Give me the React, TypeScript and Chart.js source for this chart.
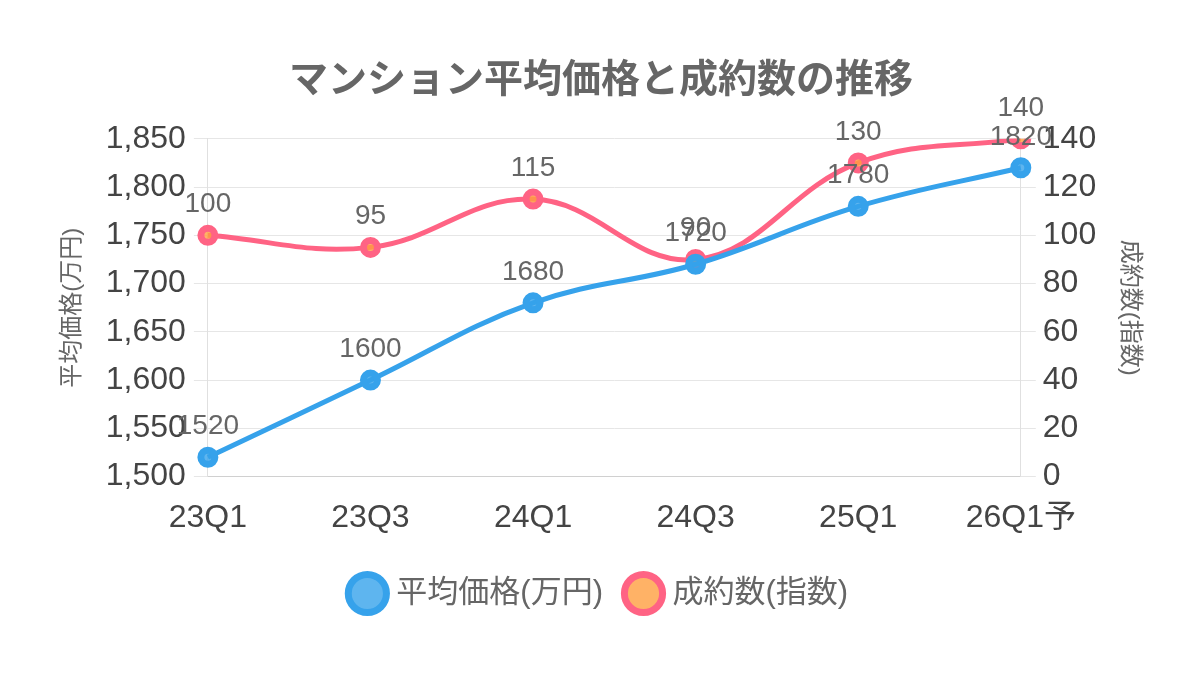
import React, { useEffect, useRef } from 'react';
import { Chart, registerables } from 'chart.js';

Chart.register(...registerables);

const categories = ['23Q1', '23Q3', '24Q1', '24Q3', '25Q1', '26Q1予'];
const priceValues = [1520, 1600, 1680, 1720, 1780, 1820];
const countValues = [100, 95, 115, 90, 130, 140];

const FONT = "'Liberation Sans', 'Noto Sans CJK JP', sans-serif";

// 各点の上に値を描く
const valueLabels = {
  id: 'valueLabels',
  afterDatasetsDraw(chart: any) {
    const { ctx } = chart;
    ctx.save();
    ctx.font = `28px ${FONT}`;
    ctx.fillStyle = '#666666';
    ctx.textAlign = 'center';
    ctx.textBaseline = 'alphabetic';
    chart.data.datasets.forEach((ds: any, i: number) => {
      const meta = chart.getDatasetMeta(i);
      meta.data.forEach((pt: any, j: number) => {
        ctx.fillText(String(ds.data[j]), pt.x, pt.y - 23);
      });
    });
    ctx.restore();
  },
};

const App: React.FC = () => {
  const chartRef = useRef<HTMLCanvasElement>(null);
  const chartInstance = useRef<Chart | null>(null);

  useEffect(() => {
    if (!chartRef.current) return;
    if (chartInstance.current) chartInstance.current.destroy();

    Chart.defaults.font.family = FONT;

    chartInstance.current = new Chart(chartRef.current, {
      type: 'line',
      data: {
        labels: categories,
        datasets: [
          {
            label: '平均価格(万円)',
            data: priceValues,
            yAxisID: 'y',
            borderColor: '#36a2eb',
            backgroundColor: 'rgba(54,162,235,0.8)',
            pointBackgroundColor: 'rgba(54,162,235,0.8)',
            pointBorderColor: '#36a2eb',
            borderWidth: 5,
            pointRadius: 7,
            pointBorderWidth: 7,
            tension: 0.4,
          },
          {
            label: '成約数(指数)',
            data: countValues,
            yAxisID: 'y1',
            borderColor: '#ff6384',
            backgroundColor: 'rgba(255,159,64,0.8)',
            pointBackgroundColor: 'rgba(255,159,64,0.8)',
            pointBorderColor: '#ff6384',
            borderWidth: 5,
            pointRadius: 7,
            pointBorderWidth: 7,
            tension: 0.4,
          },
        ],
      },
      options: {
        responsive: true,
        maintainAspectRatio: false,
        animation: false,
        layout: { padding: { top: 38, left: 50, right: 48, bottom: 56 } },
        plugins: {
          title: {
            display: true,
            text: 'マンション平均価格と成約数の推移',
            color: '#666666',
            font: { size: 39, weight: 'bold' },
            padding: { top: 20, bottom: 34 },
          },
          legend: {
            position: 'bottom',
            labels: {
              usePointStyle: true,
              pointStyle: 'circle',
              boxWidth: 27,
              boxHeight: 27,
              color: '#666666',
              font: { size: 31 },
              padding: 27,
            },
          },
          tooltip: { enabled: false },
        },
        scales: {
          x: {
            grid: { display: false },
            border: { display: true, color: '#d0d0d0' },
            ticks: { color: '#444444', font: { size: 32 }, padding: 14 },
          },
          y: {
            position: 'left',
            min: 1500,
            max: 1850,
            ticks: { stepSize: 50, color: '#444444', font: { size: 32 }, padding: 8 },
            grid: { color: '#e6e6e6', tickLength: 14 },
            border: { color: '#e0e0e0' },
            title: {
              display: true,
              text: '平均価格(万円)',
              color: '#666666',
              font: { size: 24 },
              padding: { top: 8, bottom: 11 },
            },
          },
          y1: {
            position: 'right',
            min: 0,
            max: 140,
            ticks: { stepSize: 20, color: '#444444', font: { size: 32 }, padding: 7 },
            grid: { drawOnChartArea: false, color: '#e6e6e6', tickLength: 15 },
            border: { color: '#e0e0e0' },
            title: {
              display: true,
              text: '成約数(指数)',
              color: '#666666',
              font: { size: 24 },
              padding: { top: 8, bottom: 12 },
            },
          },
        },
      },
      plugins: [valueLabels],
    });

    return () => {
      if (chartInstance.current) {
        chartInstance.current.destroy();
        chartInstance.current = null;
      }
    };
  }, []);

  return (
    <div style={{ position: 'fixed', left: 0, top: 0, width: 1200, height: 675, background: '#ffffff' }}>
      <canvas ref={chartRef}></canvas>
    </div>
  );
};

export default App;
